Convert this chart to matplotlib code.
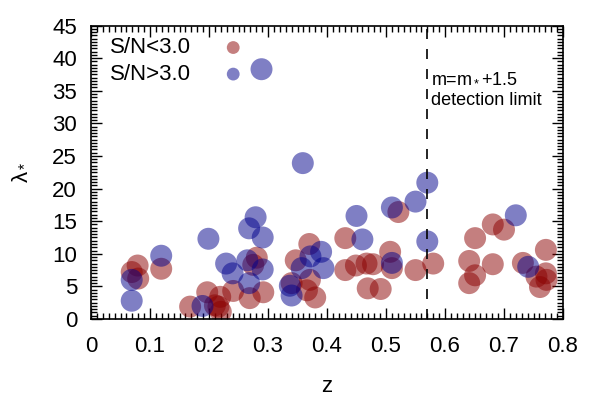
import matplotlib
matplotlib.use("Agg")
import matplotlib.pyplot as plt
from matplotlib.ticker import MultipleLocator

plt.rcParams['font.family'] = ['Liberation Sans', 'DejaVu Sans']
plt.rcParams['mathtext.fontset'] = 'custom'
plt.rcParams['mathtext.rm'] = 'Liberation Sans'
plt.rcParams['mathtext.it'] = 'Liberation Sans'

# S/N < 3.0
z_low = [0.079, 0.069, 0.080, 0.119, 0.168, 0.197, 0.219, 0.210, 0.220, 0.216,
         0.241, 0.281, 0.275, 0.269, 0.292, 0.370, 0.347, 0.371, 0.340, 0.380,
         0.366, 0.431, 0.431, 0.449, 0.467, 0.478, 0.469, 0.491, 0.507, 0.510,
         0.521, 0.550, 0.580, 0.651, 0.641, 0.651, 0.641, 0.681, 0.681, 0.700,
         0.732, 0.771, 0.771, 0.755, 0.761, 0.772]
lam_low = [8.2, 7.2, 6.2, 7.7, 1.9, 4.1, 3.4, 2.1, 1.1, 1.9,
           4.3, 9.4, 8.3, 3.2, 4.1, 11.5, 9.0, 6.0, 5.5, 3.3,
           4.4, 12.4, 7.5, 8.2, 8.5, 8.4, 4.7, 4.6, 10.3, 7.8,
           16.4, 7.5, 8.5, 12.4, 8.9, 6.7, 5.5, 8.4, 14.5, 13.7,
           8.6, 10.6, 7.0, 6.5, 4.9, 6.0]

# S/N > 3.0
z_high = [0.069, 0.069, 0.119, 0.199, 0.189, 0.229, 0.240, 0.268, 0.279, 0.291,
          0.265, 0.291, 0.268, 0.390, 0.372, 0.357, 0.394, 0.340, 0.337, 0.450,
          0.460, 0.510, 0.510, 0.550, 0.570, 0.570, 0.720, 0.741, 0.289, 0.359]
lam_high = [2.8, 6.0, 9.7, 12.3, 2.0, 8.5, 7.0, 13.9, 15.6, 12.5,
            9.0, 7.6, 5.5, 10.3, 9.6, 7.8, 7.8, 3.6, 5.1, 15.8,
            12.2, 8.6, 17.1, 18.0, 20.9, 11.9, 15.9, 8.0, 38.3, 23.9]

limit_z = 0.57
labels = ['S/N<3.0', 'S/N>3.0']

red = '#8b0000'
blue = '#00008b'

fig = plt.figure(figsize=(6, 4), dpi=100)
ax = fig.add_axes([91/600, 1 - 319/400, 472/600, (319 - 25.5)/400])

ax.scatter(z_low, lam_low, s=250, color=red, alpha=0.5, edgecolors='none', zorder=2)
ax.scatter(z_high, lam_high, s=250, color=blue, alpha=0.5, edgecolors='none', zorder=3)

ax.axvline(limit_z, color='black', lw=1.2, dashes=(6, 6), zorder=4)
ax.text(limit_z + 0.007, 38.3, 'm=m$_*$+1.5\ndetection limit', fontsize=13,
        ha='left', va='top', linespacing=1.45)

h1 = ax.scatter([], [], s=85, color=red, alpha=0.5, edgecolors='none')
h2 = ax.scatter([], [], s=85, color=blue, alpha=0.5, edgecolors='none')
ax.legend([h1, h2], labels, loc='upper left', bbox_to_anchor=(0.012, 1.005),
          frameon=False, markerfirst=False, fontsize=16, handlelength=1.0,
          handletextpad=1.4, labelspacing=0.25, borderaxespad=0.2)

ax.set_xlim(0, 0.8)
ax.set_ylim(0, 45)
ax.xaxis.set_major_locator(MultipleLocator(0.1))
ax.xaxis.set_minor_locator(MultipleLocator(0.01))
ax.yaxis.set_major_locator(MultipleLocator(5))
ax.yaxis.set_minor_locator(MultipleLocator(0.5))
ax.set_xticklabels([f'{v:g}' for v in ax.get_xticks()])
ax.tick_params(which='both', direction='in', top=True, right=True, labelsize=16, width=1.0)
ax.tick_params(which='major', length=8)
ax.tick_params(axis='x', which='major', pad=12)
ax.tick_params(axis='y', which='major', pad=10)
ax.tick_params(which='minor', length=4)
for sp in ax.spines.values():
    sp.set_linewidth(1.2)

ax.set_xlabel('z', fontsize=16, labelpad=14)
ax.set_ylabel('λ$_*$', fontsize=16, labelpad=16)

fig.savefig('out.png', dpi=100)
